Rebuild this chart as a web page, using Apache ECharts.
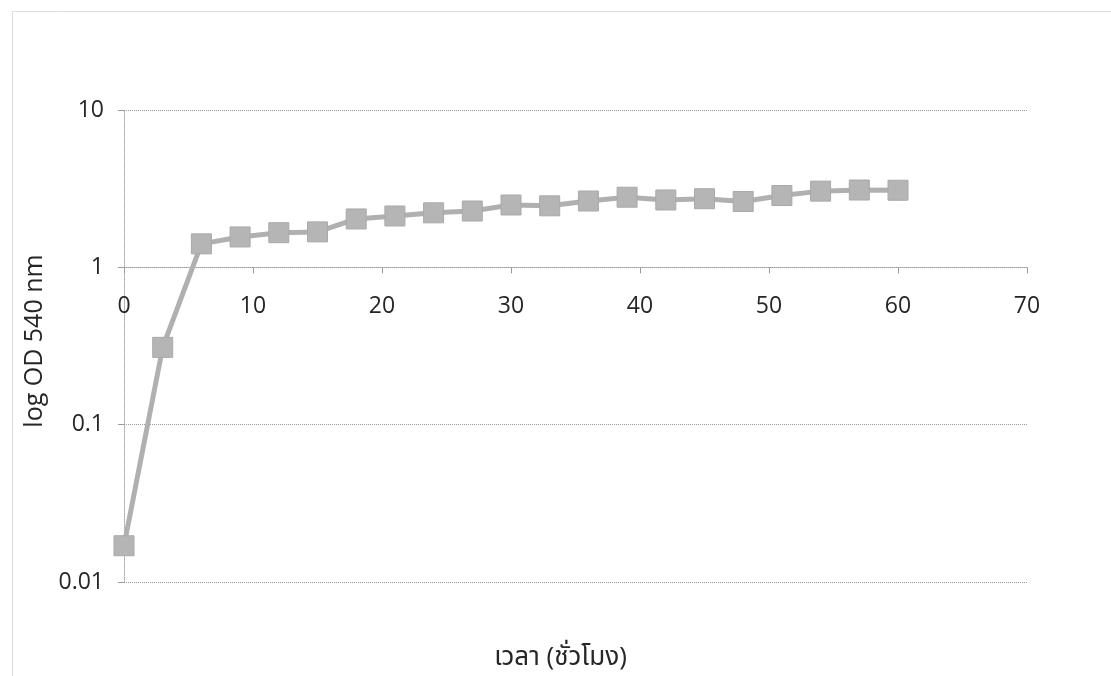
<!DOCTYPE html>
<html>
<head>
<meta charset="utf-8">
<script src="https://cdn.jsdelivr.net/npm/echarts@6/dist/echarts.min.js"></script>
<style>
  html, body { margin: 0; padding: 0; background: #fff; }
  #chart { width: 1111px; height: 676px; }
</style>
</head>
<body>
<div id="chart"></div>
<script>
// Growth curve: optical density at 540 nm over time (hours)
const hours = [0, 3, 6, 9, 12, 15, 18, 21, 24, 27, 30, 33, 36, 39, 42, 45, 48, 51, 54, 57, 60];
const od540 = [0.017, 0.31, 1.41, 1.56, 1.66, 1.68, 2.03, 2.12, 2.22, 2.28, 2.49, 2.46, 2.64, 2.79, 2.68, 2.73, 2.62, 2.86, 3.05, 3.10, 3.09];
const xTicks = [0, 10, 20, 30, 40, 50, 60, 70];
const yTicks = [0.01, 0.1, 1, 10];

const xTitle = 'เวลา (ชั่วโมง)';
const yTitle = 'log OD 540 nm';

const font = '"Open Sans", "Noto Sans", "Noto Sans Thai", sans-serif';
const textColor = '#262626';

const chart = echarts.init(document.getElementById('chart'), null, { renderer: 'canvas' });

const gridTop = 110, gridBottom = 94;
const plotH = 676 - gridTop - gridBottom;
// the horizontal axis crosses the vertical one at OD = 1
const crossOffset = -plotH * (Math.log10(1) - Math.log10(yTicks[0])) / (Math.log10(yTicks[yTicks.length - 1]) - Math.log10(yTicks[0]));

chart.setOption({
  backgroundColor: '#fff',
  animation: false,
  textStyle: { fontFamily: font },
  graphic: [{
    type: 'rect',
    shape: { x: 12.5, y: 11.5, width: 1120, height: 700 },
    style: { fill: 'none', stroke: '#b8b8b8', lineWidth: 1, lineDash: [1, 1] },
    silent: true
  }],
  grid: {
    left: 124, right: 84, top: gridTop, bottom: gridBottom,
    containLabel: false, outerBoundsMode: 'none'
  },
  xAxis: {
    type: 'value',
    min: xTicks[0],
    max: xTicks[xTicks.length - 1],
    interval: 10,
    offset: crossOffset,
    name: xTitle,
    nameLocation: 'middle',
    nameGap: 377,
    nameTextStyle: { fontSize: 26, color: textColor, fontFamily: font, padding: [0, 30, 0, 0] },
    axisLine: { show: true, onZero: false, lineStyle: { color: '#9a9a9a', width: 1, type: [1, 1] } },
    axisTick: { show: true, length: 6, inside: false, lineStyle: { color: '#9a9a9a' } },
    axisLabel: { fontSize: 23, color: textColor, margin: 28, fontFamily: font },
    splitLine: { show: false }
  },
  yAxis: {
    type: 'log',
    logBase: 10,
    min: yTicks[0],
    max: yTicks[yTicks.length - 1],
    name: yTitle,
    nameLocation: 'middle',
    nameGap: 57,
    nameRotate: 90,
    nameTextStyle: { fontSize: 25, color: textColor, fontFamily: font, padding: [0, 0, 0, 10] },
    axisLine: { show: true, lineStyle: { color: '#a8a8a8', width: 1, type: [1, 1] } },
    axisTick: { show: true, length: 6, inside: false, lineStyle: { color: '#9a9a9a' } },
    axisLabel: {
      fontSize: 23, color: textColor, margin: 20, fontFamily: font,
      formatter: v => String(Number(v.toPrecision(3)))
    },
    splitLine: { show: true, lineStyle: { color: '#9a9a9a', width: 1, type: [1, 1] } }
  },
  series: [{
    type: 'line',
    data: hours.map((h, i) => [h, od540[i]]),
    symbol: 'rect',
    symbolSize: 20,
    showSymbol: true,
    lineStyle: { color: '#b0b0b0', width: 5 },
    itemStyle: { color: '#b5b5b5', borderColor: '#a9a9a9', borderWidth: 1 },
    z: 3
  }]
});
</script>
</body>
</html>
